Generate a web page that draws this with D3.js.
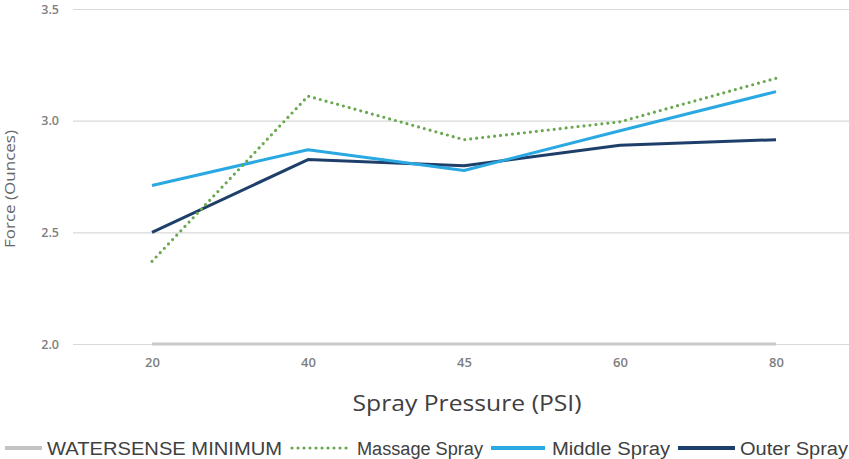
<!DOCTYPE html>
<html><head><meta charset="utf-8">
<script src="https://cdn.jsdelivr.net/npm/d3@7"></script>
<style>body{margin:0;background:#fff}svg{display:block}</style>
</head><body>
<svg id="c" width="849" height="459"></svg>
<script>
const categories = ["20","40","45","60","80"];
const yTicks = [2.0, 2.5, 3.0, 3.5];
const watersense = [2.0, 2.0, 2.0, 2.0, 2.0];
const massage = [2.37, 3.11, 2.915, 2.995, 3.19];
const middle = [2.71, 2.87, 2.777, 2.955, 3.13];
const outer = [2.5, 2.826, 2.798, 2.89, 2.915];

const svg = d3.select("#c");
const x = d3.scalePoint().domain(categories).range([74, 854]).padding(0.5);
const y = d3.scaleLinear().domain([2, 3.5]).range([344, 9]);

// gridlines
const yAxis = d3.axisLeft(y).tickValues(yTicks).tickFormat(d3.format(".1f")).tickSize(-(854-73)).tickPadding(14);
const gy = svg.append("g").attr("transform","translate(73,0)").call(yAxis);
gy.select(".domain").remove();
gy.selectAll(".tick line").attr("stroke","#d9d9d9").attr("stroke-width",1.2);
gy.selectAll(".tick text").attr("fill","#7f7f7f").attr("font-family","Open Sans").attr("font-size",12.5).attr("font-weight",600);

const xAxis = d3.axisBottom(x).tickSize(0).tickPadding(14);
const gx = svg.append("g").attr("transform","translate(0,344)").call(xAxis);
gx.select(".domain").remove();
gx.selectAll(".tick text").attr("fill","#7f7f7f").attr("font-family","Open Sans").attr("font-size",13).attr("font-weight",600);

const line = d3.line().x((d,i)=>x(categories[i])).y(d=>y(d));
const series = [
  {name:"WATERSENSE MINIMUM", data:watersense, color:"#c8c8c8", w:3.2, dash:null},
  {name:"Outer Spray", data:outer, color:"#1f3f6b", w:3, dash:null},
  {name:"Middle Spray", data:middle, color:"#29a8e2", w:3, dash:null},
  {name:"Massage Spray", data:massage, color:"#6aa84f", w:3.2, dash:"0 6"}
];
series.forEach(s=>{
  svg.append("path").datum(s.data).attr("d",line).attr("fill","none")
    .attr("stroke",s.color).attr("stroke-width",s.w)
    .attr("stroke-linecap", s.dash? "round":"butt")
    .attr("stroke-linejoin","round")
    .attr("stroke-dasharray", s.dash);
});

// axis titles
svg.append("text").attr("transform","translate(15,189) rotate(-90)").attr("text-anchor","middle")
  .attr("font-family","Open Sans").attr("font-size",15).attr("fill","#666666")
  .attr("textLength",118).attr("lengthAdjust","spacingAndGlyphs").text("Force (Ounces)");
svg.append("text").attr("x",467).attr("y",411).attr("text-anchor","middle")
  .attr("font-family","Open Sans").attr("font-size",22).attr("fill","#404040")
  .attr("textLength",229).attr("lengthAdjust","spacingAndGlyphs").text("Spray Pressure (PSI)");

// legend
const legend = [
  {name:"WATERSENSE MINIMUM", color:"#c4c4c4", dash:null, x0:5, x1:42, tx:47, tw:235},
  {name:"Massage Spray", color:"#6aa84f", dash:"0 6", x0:292, x1:350, tx:357, tw:126},
  {name:"Middle Spray", color:"#29a8e2", dash:null, x0:491, x1:545, tx:552, tw:118},
  {name:"Outer Spray", color:"#1f3f6b", dash:null, x0:678, x1:735, tx:740, tw:108}
];
const lg = svg.append("g");
legend.forEach(l=>{
  lg.append("line").attr("x1",l.x0).attr("x2",l.x1).attr("y1",448).attr("y2",448)
    .attr("stroke",l.color).attr("stroke-width",l.dash?3.2:4)
    .attr("stroke-linecap",l.dash?"round":"butt").attr("stroke-dasharray",l.dash);
  lg.append("text").attr("x",l.tx).attr("y",455).attr("font-family","Liberation Sans").attr("font-size",18)
    .attr("fill","#404040").attr("textLength",l.tw).attr("lengthAdjust","spacingAndGlyphs").text(l.name);
});
</script>
</body></html>
